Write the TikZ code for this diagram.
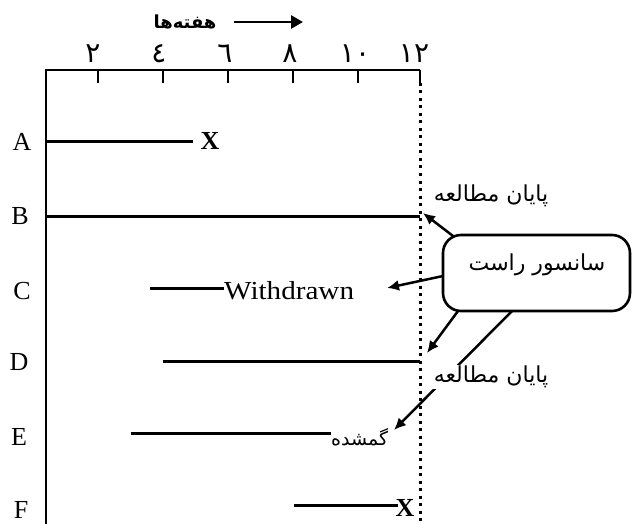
\documentclass[tikz,border=0pt]{standalone}
\usepackage{fontspec}
\setmainfont{Liberation Serif}
\newfontfamily\arabicfont[Script=Arabic]{DejaVu Sans}
\TeXXeTstate=1
\usetikzlibrary{arrows.meta}
\begin{document}
\begin{tikzpicture}[x=1pt,y=-1pt,
  axisline/.style={line width=2.8pt},
  rowline/.style={line width=3pt},
  rowlbl/.style={font=\fontsize{26}{28}\selectfont, inner sep=0pt},
  xlbl/.style={font=\fontsize{26}{28}\selectfont\bfseries, inner sep=0pt},
  artext/.style={font=\arabicfont\fontsize{17}{20}\selectfont, inner sep=1pt},
  numlbl/.style={font=\arabicfont\fontsize{28}{30}\selectfont, inner sep=0pt},
  pointer/.style={line width=2.5pt, -{Latex[length=12pt,width=11pt]}},
  censbox/.style={draw, line width=2.6pt, rounded corners=18pt, minimum width=187pt, minimum height=76pt, inner sep=0pt}
]
\useasboundingbox (0,0) rectangle (632,524);

% title
\node[artext, font=\arabicfont\fontsize{18}{20}\selectfont\bfseries] (title) at (185,22) {\beginR هفته‌ها\endR};
\coordinate (ta) at (234,22);
\coordinate (tb) at (303,22);
\draw[line width=2.8pt, -{Triangle[length=12pt,width=13pt]}] (ta) -- (tb);

% axes
\coordinate (origin) at (46,70);
\coordinate (axbottom) at (46,524);
\coordinate (axend) at (420,70);
\draw[axisline] (axbottom) -- (origin) -- (axend);
\foreach \x/\n in {98/t2,163/t4,228/t6,293/t8,358/t10,420/t12}{
  \coordinate (\n a) at (\x,70);
  \coordinate (\n b) at (\x,83);
  \draw[axisline] (\n a) -- (\n b);
}
\node[numlbl] (n2) at (93,54) {٢};
\node[numlbl] (n4) at (159,54) {٤};
\node[numlbl] (n6) at (225,54) {٦};
\node[numlbl] (n8) at (290,54) {٨};
\node[numlbl] (n10) at (355,54) {١٠};
\node[numlbl] (n12) at (414,54) {١٢};

% end of study dotted line
\coordinate (dtop) at (420,83);
\coordinate (dbot) at (420,524);
\draw[line width=3pt, dash pattern=on 3pt off 4.5pt] (dtop) -- (dbot);

% row labels
\node[rowlbl] (lA) at (22,142) {A};
\node[rowlbl] (lB) at (20,216) {B};
\node[rowlbl] (lC) at (22,291) {C};
\node[rowlbl] (lD) at (19,362) {D};
\node[rowlbl] (lE) at (19,437) {E};
\node[rowlbl] (lF) at (21,510) {F};

% A
\coordinate (a1) at (46,142);
\coordinate (a2) at (193,142);
\draw[rowline] (a1) -- (a2);
\node[xlbl] (xA) at (210,141) {X};
% B
\coordinate (b1) at (46,216);
\coordinate (b2) at (420,216);
\draw[rowline] (b1) -- (b2);
% C
\coordinate (c1) at (150,288);
\node[rowlbl, anchor=west, xscale=1.12] (wd) at (224,291) {Withdrawn};
\draw[rowline] (c1) -- (wd.west |- c1);
% D
\coordinate (d1) at (163,361);
\coordinate (d2) at (420,361);
\draw[rowline] (d1) -- (d2);
% E
\coordinate (e1) at (131,433);
\node[artext, anchor=west, font=\arabicfont\fontsize{19}{20}\selectfont, inner sep=0pt] (lost) at (331,437) {\beginR گمشده\endR};
\draw[rowline] (e1) -- (lost.west |- e1);
% F
\coordinate (f1) at (294,505);
\coordinate (f2) at (398,505);
\draw[rowline] (f1) -- (f2);
\node[xlbl] (xF) at (405,508) {X};

% censoring box
\node[censbox] (cens) at (536.5,273) {};
\node[artext, font=\arabicfont\fontsize{22}{24}\selectfont] (censtxt) at (537,265) {\beginR سانسور راست\endR};

\coordinate (s1) at (453,236);
\coordinate (p1) at (423,213);
\coordinate (s2) at (443,276);
\coordinate (p2) at (387,288);
\coordinate (s3) at (458,311);
\coordinate (p3) at (427,353);
\coordinate (s4) at (512,311);
\coordinate (p4) at (394,430);
\draw[pointer] (s1) -- (p1);
\draw[pointer] (s2) -- (p2);
\draw[pointer] (s3) -- (p3);
\draw[pointer] (s4) -- (p4);

% end of study labels
\node[artext, fill=white, font=\arabicfont\fontsize{22}{24}\selectfont] (eos1) at (491,196) {\beginR پایان مطالعه\endR};
\node[artext, fill=white, font=\arabicfont\fontsize{22}{24}\selectfont] (eos2) at (491,377) {\beginR پایان مطالعه\endR};
\end{tikzpicture}
\end{document}
